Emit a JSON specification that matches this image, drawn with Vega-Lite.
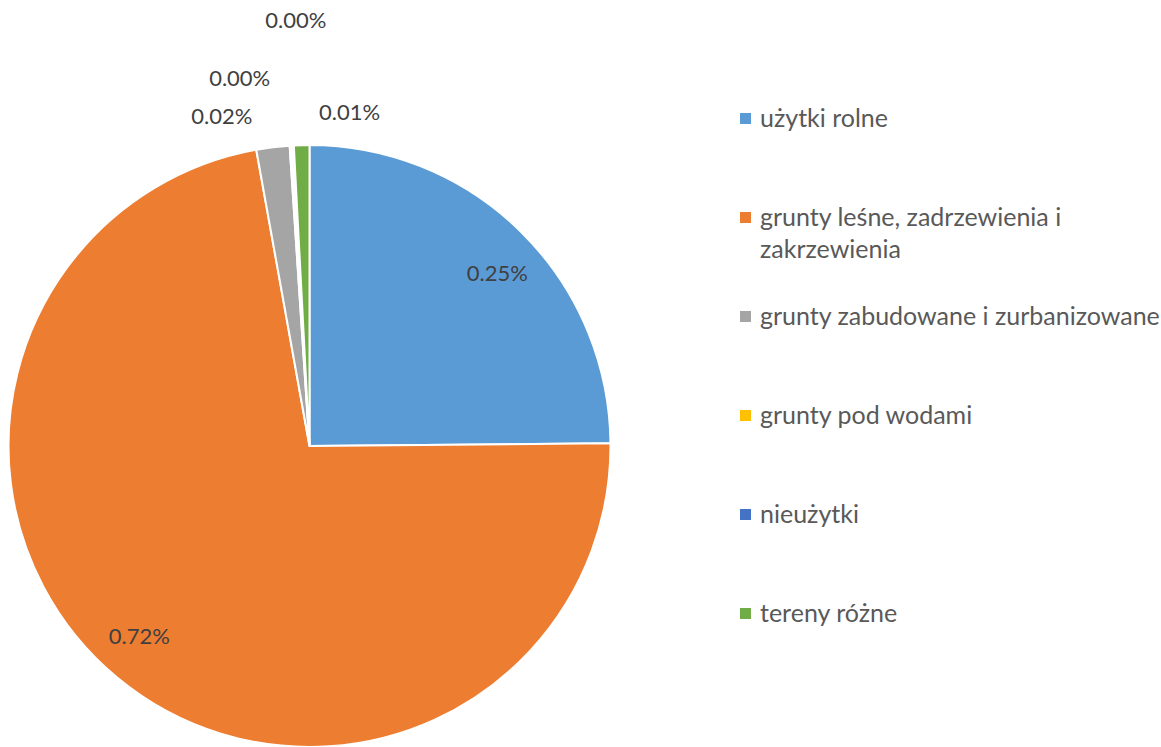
{
  "$schema": "https://vega.github.io/schema/vega-lite/v6.json",
  "width": 619,
  "height": 602,
  "autosize": {"type": "none"},
  "padding": {"left": 0, "top": 145, "right": 542, "bottom": 0},
  "background": "white",
  "config": {
    "view": {"stroke": null},
    "text": {"font": "Lato"},
    "style": {"guide-label": {"dy": -12, "lineHeight": 32}}
  },
  "data": {
    "values": [
      {"kategoria": "użytki rolne", "udzial": 0.2486, "nr": 1},
      {"kategoria": "grunty leśne, zadrzewienia i zakrzewienia", "udzial": 0.7231, "nr": 2},
      {"kategoria": "grunty zabudowane i zurbanizowane", "udzial": 0.0178, "nr": 3},
      {"kategoria": "grunty pod wodami", "udzial": 0.0011, "nr": 4},
      {"kategoria": "nieużytki", "udzial": 0.0011, "nr": 5},
      {"kategoria": "tereny różne", "udzial": 0.0083, "nr": 6}
    ]
  },
  "transform": [{"calculate": "format(datum.udzial, '.2f') + '%'", "as": "etykieta"}],
  "encoding": {
    "theta": {"field": "udzial", "type": "quantitative", "stack": true},
    "order": {"field": "nr", "type": "quantitative"}
  },
  "layer": [
    {
      "mark": {"type": "arc", "outerRadius": 301, "stroke": "white", "strokeWidth": 2},
      "encoding": {
        "color": {
          "field": "kategoria",
          "type": "nominal",
          "scale": {
            "domain": ["użytki rolne", "grunty leśne, zadrzewienia i zakrzewienia", "grunty zabudowane i zurbanizowane", "grunty pod wodami", "nieużytki", "tereny różne"],
            "range": ["#5B9BD5", "#ED7D31", "#A5A5A5", "#FFC000", "#4472C4", "#70AD47"]
          },
          "legend": {
            "title": null,
            "orient": "none",
            "legendX": 733,
            "legendY": -39,
            "padding": 0,
            "symbolType": "square",
            "symbolSize": 121,
            "symbolStrokeWidth": 0,
            "labelFont": "Lato",
            "labelFontSize": 25,
            "labelColor": "#595959",
            "labelLimit": 600,
            "labelOffset": 2,
            "labelBaseline": "top",
            "rowPadding": 41,
            "gridAlign": "all",
            "labelExpr": "datum.label == 'grunty leśne, zadrzewienia i zakrzewienia' ? ['grunty leśne, zadrzewienia i', 'zakrzewienia'] : datum.label",
            "encode": {"labels": {"dy": {"value": -12}, "lineHeight": {"value": 32}}}
          }
        }
      }
    },
    {
      "mark": {"type": "text", "radius": 254, "dx": 9, "dy": 8, "fontSize": 22, "color": "#404040"},
      "encoding": {"text": {"condition": {"test": "datum.kategoria !== 'użytki rolne'", "value": ""}, "field": "etykieta", "type": "nominal"}}
    },
    {
      "mark": {"type": "text", "radius": 254, "dx": -8, "dy": -5, "fontSize": 22, "color": "#404040"},
      "encoding": {"text": {"condition": {"test": "datum.kategoria !== 'grunty leśne, zadrzewienia i zakrzewienia'", "value": ""}, "field": "etykieta", "type": "nominal"}}
    },
    {
      "mark": {"type": "text", "radius": 301, "dx": -51, "dy": -30, "fontSize": 22, "color": "#404040"},
      "encoding": {"text": {"condition": {"test": "datum.kategoria !== 'grunty zabudowane i zurbanizowane'", "value": ""}, "field": "etykieta", "type": "nominal"}}
    },
    {
      "mark": {"type": "text", "radius": 301, "dx": -51, "dy": -67, "fontSize": 22, "color": "#404040"},
      "encoding": {"text": {"condition": {"test": "datum.kategoria !== 'grunty pod wodami'", "value": ""}, "field": "etykieta", "type": "nominal"}}
    },
    {
      "mark": {"type": "text", "radius": 301, "dx": 3, "dy": -124, "fontSize": 22, "color": "#404040"},
      "encoding": {"text": {"condition": {"test": "datum.kategoria !== 'nieużytki'", "value": ""}, "field": "etykieta", "type": "nominal"}}
    },
    {
      "mark": {"type": "text", "radius": 301, "dx": 48, "dy": -32, "fontSize": 22, "color": "#404040"},
      "encoding": {"text": {"condition": {"test": "datum.kategoria !== 'tereny różne'", "value": ""}, "field": "etykieta", "type": "nominal"}}
    }
  ]
}
